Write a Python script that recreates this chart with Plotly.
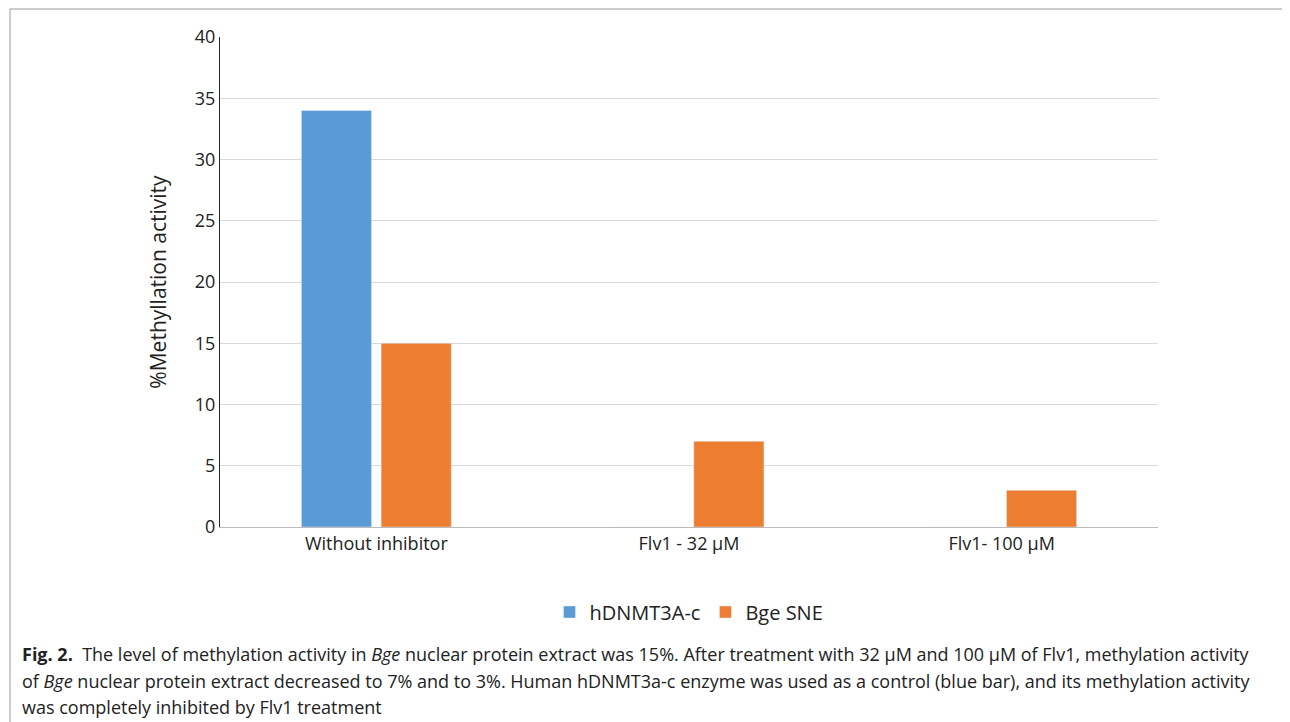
import plotly.graph_objects as go

categories = ["Without inhibitor", "Flv1 - 32 µM", "Flv1- 100 µM"]
hdnmt = [34, 0, 0]
bge = [15, 7, 3]

W, H = 1290, 722
OFF = 8  # page body margin
L, R, T, B = 220 - OFF, 132 + OFF, 37 - OFF, 195 + OFF
pw, ph = W - L - R, H - T - B


def px(x):
    return (x - OFF - L) / pw


def py(y):
    return (H - B - (y - OFF)) / ph


fig = go.Figure()
fig.add_trace(go.Bar(x=categories, y=hdnmt, name="hDNMT3A-c", marker_color="#5B9BD5"))
fig.add_trace(go.Bar(x=categories, y=bge, name="Bge SNE", marker_color="#ED7D31"))

font = "Open Sans, Liberation Sans, sans-serif"
fig.update_layout(
    width=W, height=H,
    margin=dict(l=L, r=R, t=T, b=B),
    paper_bgcolor="white", plot_bgcolor="white",
    barmode="group", bargap=0.49, bargroupgap=0.12,
    font=dict(family=font, size=18, color="#222"),
    legend=dict(orientation="h", x=0.5, xanchor="center", y=py(612), yanchor="middle",
                font=dict(size=20), itemwidth=30),
    yaxis=dict(range=[0, 40], dtick=5, showgrid=True, gridcolor="#d9d9d9",
               showline=True, linecolor="#222", ticks="", zeroline=False,
               title=dict(text="%Methyllation activity", font=dict(size=21), standoff=22)),
    xaxis=dict(showline=True, linecolor="#bbb", ticks=""),
    showlegend=True,
)

fig.add_shape(type="rect", xref="paper", yref="paper",
              x0=px(10), x1=px(1284), y0=py(735), y1=py(9),
              line=dict(color="#999", width=1))

caption = [
    "<b>Fig. 2.</b>  The level of methylation activity in <i>Bge</i> nuclear protein extract was 15%. After treatment with 32 µM and 100 µM of Flv1, methylation activity",
    "of <i>Bge</i> nuclear protein extract decreased to 7% and to 3%. Human hDNMT3a-c enzyme was used as a control (blue bar), and its methylation activity",
    "was completely inhibited by Flv1 treatment",
]
for i, line in enumerate(caption):
    fig.add_annotation(text=line, xref="paper", yref="paper", x=px(20), y=py(654 + 26.5 * i),
                       xanchor="left", yanchor="middle", showarrow=False,
                       font=dict(size=18, color="#222", family=font))

fig.write_html("out.html")
